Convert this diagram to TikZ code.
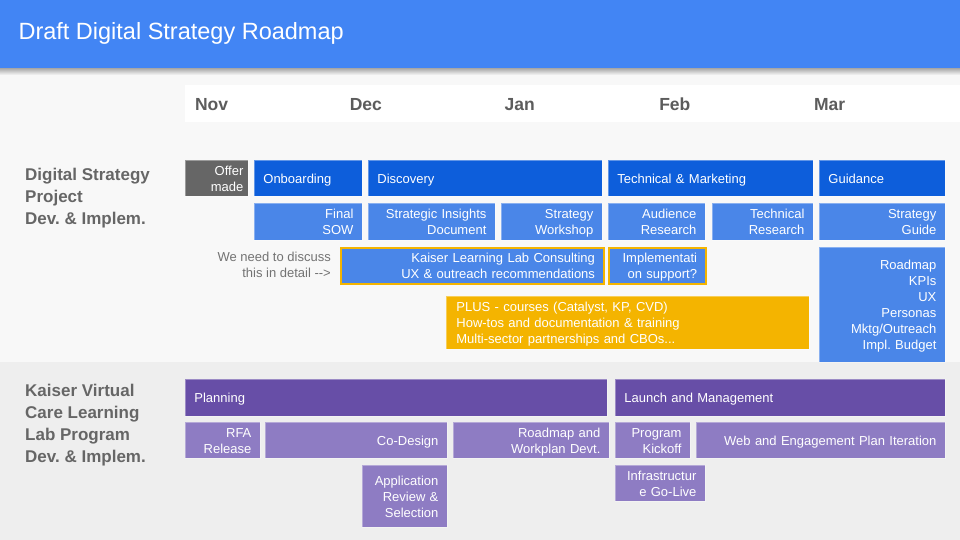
\documentclass[tikz,border=0pt]{standalone}
\usepackage{fontspec}
\setmainfont{Liberation Sans}
\usepackage{xcolor}
\usepackage{tikz}
\usetikzlibrary{positioning}
\frenchspacing

\definecolor{hdrblue}{HTML}{4285F4}
\definecolor{bgtop}{HTML}{F8F8F8}
\definecolor{bgbot}{HTML}{EEEEEE}
\definecolor{stratdark}{HTML}{0D5EDB}
\definecolor{stratlight}{HTML}{4A86E8}
\definecolor{offergray}{HTML}{666666}
\definecolor{gold}{HTML}{F4B400}
\definecolor{labdark}{HTML}{674EA7}
\definecolor{lablight}{HTML}{8E7CC3}
\definecolor{lblgray}{HTML}{666666}

\newcommand\boxstrut{\rule[-2.7pt]{0pt}{14.7pt}}

\begin{document}
\begin{tikzpicture}[x=1pt, y=-1pt,
            task/.style={anchor=north west, inner xsep=9pt, inner ysep=0pt,
                minimum height=36pt, text=white, draw=white, draw opacity=0.35,
                line width=0.8pt, font=\fontsize{13}{16}\selectfont,
                execute at begin node=\boxstrut, execute at end node=\boxstrut},
            dark/.style={task, fill=stratdark, align=left},
            light/.style={task, fill=stratlight, align=right},
            ask/.style={light, draw=gold, draw opacity=1, line width=2pt},
            pdark/.style={task, fill=labdark, align=left},
            plight/.style={task, fill=lablight, align=right},
            month/.style={anchor=west, text=lblgray!90!black, font=\fontsize{17.5}{20}\selectfont\bfseries},
            rowlbl/.style={anchor=north west, inner sep=0pt, align=left, text=lblgray,
                font=\fontsize{17}{22}\selectfont\bfseries},
        ]
        \useasboundingbox (0,0) rectangle (960,540);

        % backgrounds
        \fill[bgtop] (0,68) rectangle (960,362);
        \fill[bgbot] (0,362) rectangle (960,540);
        \fill[top color=black!35, bottom color=bgtop] (0,68) rectangle (960,75);
        \fill[hdrblue] (0,0) rectangle (960,68);
        \node[anchor=west, text=white, font=\fontsize{23.5}{27}\selectfont] (title) at (15,33.5) {Draft Digital Strategy Roadmap};

        % months
        \fill[white] (185,85) rectangle (960,122);
        \foreach \m [count=\i from 0] in {Nov,Dec,Jan,Feb,Mar} {
            \node[month] (m\i) at (191.5+154.75*\i,104.5) {\m};
        }

        % digital strategy project
        \node[rowlbl] (lblds) at (25,168) {Digital Strategy\\Project\\Dev. \& Implem.};

        \node[task, fill=offergray, align=right, inner xsep=5pt, minimum width=63pt, text width=53pt] (offer) at (185,160) {Offer\\made};
        \node[dark, minimum width=108pt, text width=90pt] (onb) at (254,160) {Onboarding};
        \node[dark, minimum width=234pt, text width=216pt] (disc) at (368,160) {Discovery};
        \node[dark, minimum width=205pt, text width=187pt] (techmkt) at (608,160) {Technical \& Marketing};
        \node[dark, minimum width=126pt, text width=108pt] (guide) at (819,160) {Guidance};

        \node[light, minimum width=108pt, text width=90pt, minimum height=37pt] (sow) at (254,203) {Final\\SOW};
        \node[light, minimum width=127pt, text width=109pt, minimum height=37pt] (insights) at (368,203) {Strategic Insights\\Document};
        \node[light, minimum width=101pt, text width=83pt, minimum height=37pt] (workshop) at (501,203) {Strategy\\Workshop};
        \node[light, minimum width=97pt, text width=79pt, minimum height=37pt] (audience) at (608,203) {Audience\\Research};
        \node[light, minimum width=101pt, text width=83pt, minimum height=37pt] (techres) at (712,203) {Technical\\Research};
        \node[light, minimum width=126pt, text width=108pt, minimum height=37pt] (stratguide) at (819,203) {Strategy\\Guide};

        \node[anchor=east, align=right, text=black!55, inner sep=0pt, font=\fontsize{13}{16}\selectfont] (discuss) at (331,265) {We need to discuss\\this in detail -{}->};
        \node[ask, minimum width=263pt, text width=245pt] (kllc) at (340,247) {Kaiser Learning Lab Consulting\\UX \& outreach recommendations};
        \node[ask, minimum width=97pt, text width=79pt] (implsup) at (608,247) {Implementati\\on support?};
        \node[light, minimum width=126pt, text width=108pt, minimum height=115pt] (deliver) at (819,247) {Roadmap\\KPIs\\UX\\Personas\\Mktg/Outreach\\Impl. Budget};
        \node[task, fill=gold, align=left, inner xsep=10pt, minimum width=363pt, text width=343pt, minimum height=53pt] (plus) at (446,296) {PLUS - courses (Catalyst, KP, CVD)\\How-tos and documentation \& training\\Multi-sector partnerships and CBOs...};

        % learning lab program
        \node[rowlbl] (lblkv) at (25,384) {Kaiser Virtual\\Care Learning\\Lab Program\\Dev. \& Implem.};

        \node[pdark, minimum width=422pt, text width=404pt, minimum height=37pt] (plan) at (185,379) {Planning};
        \node[pdark, minimum width=330pt, text width=312pt, minimum height=37pt] (launch) at (615,379) {Launch and Management};

        \node[plight, minimum width=75pt, text width=57pt] (rfa) at (185,422) {RFA\\Release};
        \node[plight, minimum width=182pt, text width=164pt] (codesign) at (265,422) {Co-Design};
        \node[plight, minimum width=156pt, text width=138pt] (workplan) at (453,422) {Roadmap and\\Workplan Devt.};
        \node[plight, minimum width=75pt, text width=57pt] (kickoff) at (615,422) {Program\\Kickoff};
        \node[plight, minimum width=249pt, text width=231pt] (webplan) at (696,422) {Web and Engagement Plan Iteration};
        \node[plight, minimum width=85pt, text width=67pt, minimum height=62pt] (appreview) at (362,465) {Application\\Review \&\\Selection};
        \node[plight, minimum width=90pt, text width=72pt] (golive) at (615,465) {Infrastructur\\e Go-Live};
    \end{tikzpicture}
\end{document}
